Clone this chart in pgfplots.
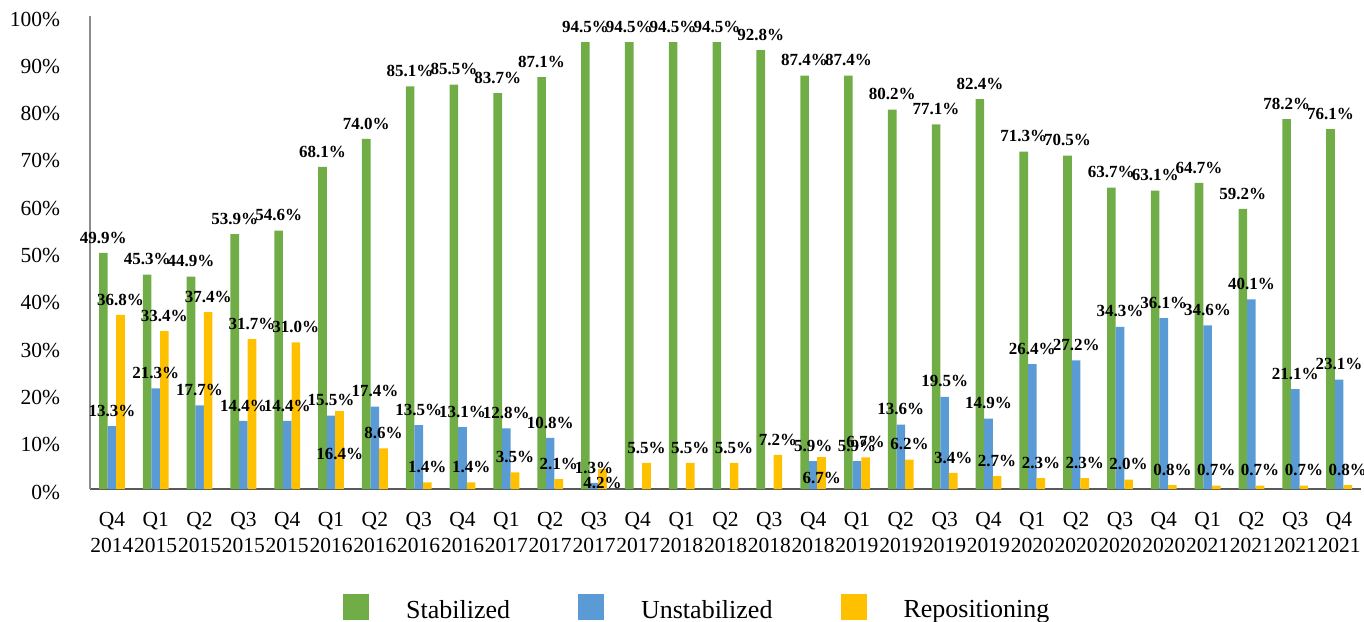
\documentclass[border=0pt]{standalone}
\usepackage{fontspec}
\setmainfont{Liberation Serif}
\usepackage{pgfplots}
\usepackage{pgfplotstable}
\pgfplotsset{compat=1.18}
\definecolor{cgreen}{HTML}{70AD47}
\definecolor{cblue}{HTML}{5B9BD5}
\definecolor{cyellow}{HTML}{FFC000}

\pgfplotstableread{
x y
0 49.9
1 45.3
2 44.9
3 53.9
4 54.6
5 68.1
6 74.0
7 85.1
8 85.5
9 83.7
10 87.1
11 94.5
12 94.5
13 94.5
14 94.5
15 92.8
16 87.4
17 87.4
18 80.2
19 77.1
20 82.4
21 71.3
22 70.5
23 63.7
24 63.1
25 64.7
26 59.2
27 78.2
28 76.1
}\stab

\pgfplotstableread{
x y
0 13.3
1 21.3
2 17.7
3 14.4
4 14.4
5 15.5
6 17.4
7 13.5
8 13.1
9 12.8
10 10.8
11 1.3
16 5.9
17 5.9
18 13.6
19 19.5
20 14.9
21 26.4
22 27.2
23 34.3
24 36.1
25 34.6
26 40.1
27 21.1
28 23.1
}\unstab

\pgfplotstableread{
x y
0 36.8
1 33.4
2 37.4
3 31.7
4 31.0
6 8.6
7 1.4
8 1.4
9 3.5
10 2.1
12 5.5
13 5.5
14 5.5
15 7.2
17 6.7
18 6.2
19 3.4
20 2.7
21 2.3
22 2.3
23 2.0
24 0.8
25 0.7
26 0.7
27 0.7
28 0.8
}\repos

\pgfplotstableread{
x y
5 16.4
}\reposA
\pgfplotstableread{
x y
11 4.2
}\reposB
\pgfplotstableread{
x y
16 6.7
}\reposC

\begin{document}
\begin{tikzpicture}
\begin{axis}[
  scale only axis, width=635.5pt, height=236.5pt,
  xmin=-0.5, xmax=28.5, ymin=0, ymax=100,
  ybar=0pt, bar width=4.3pt,
  axis x line*=bottom, axis y line*=left,
  x axis line style={draw=black!65, line width=1pt, -},
  y axis line style={draw=black!45, line width=0.75pt, -},
  major tick length=0pt,
  xtick={0,...,28},
  xticklabels={{Q4\\2014},{Q1\\2015},{Q2\\2015},{Q3\\2015},{Q4\\2015},{Q1\\2016},{Q2\\2016},{Q3\\2016},{Q4\\2016},{Q1\\2017},{Q2\\2017},{Q3\\2017},{Q4\\2017},{Q1\\2018},{Q2\\2018},{Q3\\2018},{Q4\\2018},{Q1\\2019},{Q2\\2019},{Q3\\2019},{Q4\\2019},{Q1\\2020},{Q2\\2020},{Q3\\2020},{Q4\\2020},{Q1\\2021},{Q2\\2021},{Q3\\2021},{Q4\\2021}},
  xticklabel style={align=center, font=\fontsize{10.75}{13}\selectfont, yshift=-8pt},
  ytick={0,10,...,100},
  yticklabel={\pgfmathprintnumber{\tick}\%},
  yticklabel style={font=\fontsize{10.75}{13}\selectfont, xshift=-11.4pt, yshift=-1.5pt},
  /pgf/number format/assume math mode=true,
  nodes near coords={\pgfmathprintnumber[fixed,fixed zerofill,precision=1]{\pgfplotspointmeta}\%},
  every node near coord/.append style={font=\bfseries\fontsize{8.5}{10}\selectfont, inner sep=0pt, yshift=4.6pt, text=black},
  legend columns=3,
  legend style={draw=none, at={(0.477,-0.2506)}, anchor=center,
    font=\fontsize{13}{15}\selectfont,
    /tikz/every even column/.append style={column sep=34pt},
    /tikz/every odd column/.append style={column sep=18.5pt},
    nodes={inner sep=0pt}},
  clip=false,
]
\addplot[fill=cgreen, draw=none, bar shift=-4.3pt,
  legend image code/.code={\fill[cgreen] (0pt,-4.75pt) rectangle (13pt,8.25pt);}] table {\stab};
\addplot[fill=cblue, draw=none, bar shift=0pt,
  legend image code/.code={\fill[cblue] (0pt,-4.75pt) rectangle (13pt,8.25pt);}] table {\unstab};
\addplot[fill=cyellow, draw=none, bar shift=4.3pt,
  legend image code/.code={\fill[cyellow] (0pt,-4.75pt) rectangle (13pt,8.25pt);}] table {\repos};
\addplot[fill=cyellow, draw=none, bar shift=4.3pt, forget plot,
  every node near coord/.append style={yshift=-29pt}] table {\reposA};
\addplot[fill=cyellow, draw=none, bar shift=4.3pt, forget plot,
  every node near coord/.append style={yshift=-14.5pt}] table {\reposB};
\addplot[fill=cyellow, draw=none, bar shift=4.3pt, forget plot,
  every node near coord/.append style={yshift=-18pt}] table {\reposC};
\legend{Stabilized, Unstabilized, Repositioning}
\coordinate (bb1) at (rel axis cs:0,0);
\coordinate (bb2) at (rel axis cs:1,1);
\end{axis}
\pgfresetboundingbox
\path[use as bounding box] ([shift={(-45pt,-66pt)}]bb1) rectangle ([shift={(1.5pt,8pt)}]bb2);
\end{tikzpicture}
\end{document}
